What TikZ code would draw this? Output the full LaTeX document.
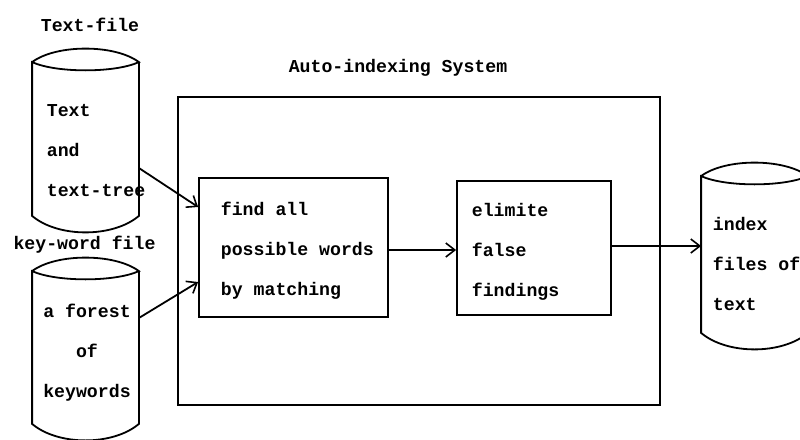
\documentclass[tikz,border=0pt]{standalone}
\usepackage{fontspec}
\setmonofont{Liberation Mono}
\usetikzlibrary{arrows.meta}

\tikzset{
    every picture/.style={line width=1.8pt},
    txt/.style={inner sep=0pt, font=\ttfamily\bfseries\fontsize{18.2}{40}\selectfont},
    blk/.style={draw, inner sep=0pt},
    drum/.style={inner sep=0pt},
    flow/.style={-{Straight Barb[length=9pt,width=14pt,line width=1.6pt]}}
}

% cylinder outline round an empty node
\newcommand{\drumline}[1]{%
    \draw (#1.north west)
        .. controls ([xshift=24pt,yshift=18pt]#1.north west) and ([xshift=-24pt,yshift=18pt]#1.north east) .. (#1.north east)
        .. controls ([xshift=-24pt,yshift=-11pt]#1.north east) and ([xshift=24pt,yshift=-11pt]#1.north west) .. (#1.north west)
        -- (#1.south west)
        .. controls ([xshift=26pt,yshift=-22pt]#1.south west) and ([xshift=-26pt,yshift=-22pt]#1.south east) .. (#1.south east)
        -- (#1.north east);}

\begin{document}
\begin{tikzpicture}[x=1pt, y=-1pt]
            \useasboundingbox (0,0) rectangle (800,439);

            % files on the left
            \node[txt] (tfiletitle) at (90,25) {Text-file};
            \node[drum, minimum width=105pt, minimum height=152pt] (tfile) at (85.5,139) {};
            \drumline{tfile}
            \node[txt, anchor=west, align=left] (tfiletext) at (46,151) {Text\\and\\text-tree};

            \node[txt] (kwtitle) at (84.5,245) {key-word file};
            \node[drum, minimum width=105pt, minimum height=151pt] (kwfile) at (85.5,347.5) {};
            \drumline{kwfile}
            \node[txt, align=center] (kwtext) at (87,353) {a forest\\of\\keywords};

            % the system
            \node[txt] (systitle) at (398,68) {Auto-indexing System};
            \node[blk, minimum width=482pt, minimum height=308pt] (system) at (419,251) {};

            \node[blk, minimum width=189pt, minimum height=139pt] (find) at (293.5,247.5) {};
            \node[txt, anchor=west, align=left] (findtext) at (220,251) {find all\\possible words\\by matching};

            \node[blk, minimum width=154pt, minimum height=134pt] (elim) at (534,248) {};
            \node[txt, anchor=west, align=left] (elimtext) at (471,252) {elimite\\false\\findings};

            % output file
            \node[drum, minimum width=105pt, minimum height=155pt] (index) at (754.5,254.5) {};
            \drumline{index}
            \node[txt, anchor=west, align=left] (indextext) at (712,264) {index\\files of\\text};

            \draw[flow] ([yshift=-29pt]tfile.east) -- ([yshift=40.5pt]find.west);
            \draw[flow] ([yshift=29.5pt]kwfile.east) -- ([yshift=-34.5pt]find.west);
            \draw[flow] ([yshift=-2.5pt]find.east) -- ([yshift=-2.5pt]find.east -| elim.west);
            \draw[flow] ([yshift=2pt]elim.east) -- ([yshift=2pt]elim.east -| index.west);
        \end{tikzpicture}
\end{document}
